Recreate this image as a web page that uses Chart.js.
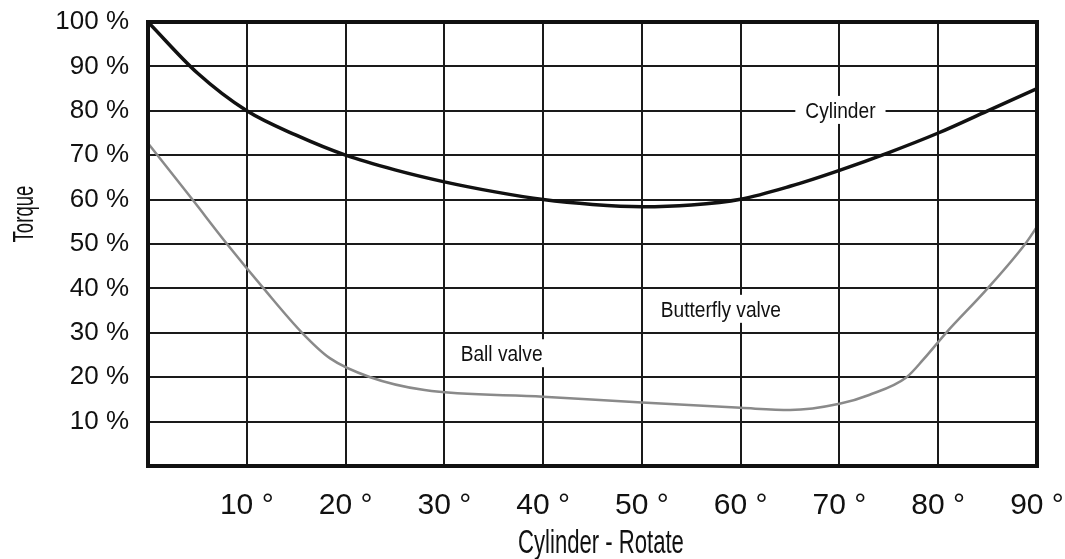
<!DOCTYPE html>
<html>
<head>
    <title>Torque vs Rotation</title>
    <script src="https://cdn.jsdelivr.net/npm/chart.js"></script>
    <style>
        body { margin: 0; background: #fff; }
    </style>
</head>
<body>
    <canvas id="torqueChart" width="1065" height="559"></canvas>

    <script>
        // values (angle in degrees, torque in %)
        var cylinderAngles = [0, 5, 10, 15, 20, 25, 30, 35, 40, 45, 50, 55, 60, 65, 70, 75, 80, 85, 90];
        var cylinderTorque = [100, 88.5, 80, 74.5, 70, 66.7, 64, 61.8, 60, 58.9, 58.4, 58.8, 60.1, 63, 66.6, 70.6, 75, 80, 85];

        var valveAngles = [0, 4.5, 8, 11.7, 15.6, 18.4, 22.5, 28, 40, 50, 60, 65, 70, 73, 76.8, 78.5, 80.8, 85, 88.8, 90];
        var valveTorque = [72.7, 60, 50, 40, 30, 24.3, 20, 17.1, 15.6, 14.3, 13.1, 12.6, 14, 16, 20, 24, 30, 40, 50, 53.9];

        var xTicks = [10, 20, 30, 40, 50, 60, 70, 80, 90];
        var yTicks = [10, 20, 30, 40, 50, 60, 70, 80, 90, 100];

        // curve names written inside the plot, placed in data units
        var curveLabels = ['Cylinder', 'Butterfly valve', 'Ball valve'];
        var curveLabelAngle = [70.1, 58, 35.8];
        var curveLabelTorque = [80.2, 35.4, 25.4];

        var regular = "'Liberation Sans', Arial, sans-serif";

        function toPoints(xs, ys) {
            return xs.map(function(x, i) { return {x: x, y: ys[i]}; });
        }

        // condensed text: squeeze along the writing direction
        function narrowText(ctx, text, x, y, squeeze) {
            ctx.save();
            ctx.translate(x, y);
            ctx.scale(squeeze, 1);
            ctx.fillText(text, 0, 0);
            ctx.restore();
        }

        var frameAndText = {
            id: 'frameAndText',
            beforeDatasetsDraw: function(chart) {
                var ctx = chart.ctx;
                var xs = chart.scales.x, ys = chart.scales.y;
                ctx.save();
                ctx.font = '22px ' + regular;
                ctx.textAlign = 'center';
                ctx.textBaseline = 'alphabetic';
                for (var i = 0; i < curveLabels.length; i++) {
                    var px = xs.getPixelForValue(curveLabelAngle[i]);
                    var py = ys.getPixelForValue(curveLabelTorque[i]);
                    var w = ctx.measureText(curveLabels[i]).width * 0.87;
                    ctx.fillStyle = '#fff';
                    ctx.fillRect(px - w / 2 - 10, py - 14, w + 20, 28);
                    ctx.fillStyle = '#111';
                    narrowText(ctx, curveLabels[i], px, py + 8, 0.87);
                }
                ctx.restore();
            },
            afterDraw: function(chart) {
                var ctx = chart.ctx;
                var a = chart.chartArea;
                ctx.save();
                ctx.strokeStyle = '#111';
                ctx.lineWidth = 4;
                ctx.strokeRect(a.left, a.top, a.right - a.left, a.bottom - a.top);

                ctx.fillStyle = '#111';
                ctx.textAlign = 'center';
                ctx.textBaseline = 'alphabetic';
                ctx.font = '34px ' + regular;
                narrowText(ctx, 'Cylinder - Rotate', 601, 553, 0.65);

                ctx.translate(33, 214);
                ctx.rotate(-Math.PI / 2);
                ctx.font = '30px ' + regular;
                narrowText(ctx, 'Torque', 0, 0, 0.62);
                ctx.restore();
            }
        };

        var ctx = document.getElementById('torqueChart').getContext('2d');
        var torqueChart = new Chart(ctx, {
            type: 'line',
            data: {
                datasets: [{
                    label: 'Cylinder',
                    data: toPoints(cylinderAngles, cylinderTorque),
                    borderColor: '#111',
                    borderWidth: 3.5,
                    pointRadius: 0,
                    cubicInterpolationMode: 'monotone'
                }, {
                    label: 'Valve',
                    data: toPoints(valveAngles, valveTorque),
                    borderColor: '#8a8a8a',
                    borderWidth: 2.5,
                    pointRadius: 0,
                    cubicInterpolationMode: 'monotone'
                }]
            },
            options: {
                responsive: false,
                animation: false,
                layout: { padding: { top: 22, right: 28, left: 0, bottom: 0 } },
                plugins: {
                    legend: { display: false },
                    tooltip: { enabled: false }
                },
                scales: {
                    x: {
                        type: 'linear',
                        min: 0,
                        max: 90,
                        afterBuildTicks: function(scale) {
                            scale.ticks = [0].concat(xTicks).map(function(v) { return {value: v}; });
                        },
                        afterFit: function(scale) {
                            scale.height = 93;
                            scale.paddingLeft = 0;
                            scale.paddingRight = 0;
                        },
                        border: { display: false },
                        grid: { color: '#1a1a1a', lineWidth: 2, drawTicks: false },
                        ticks: {
                            padding: 22,
                            color: '#111',
                            font: { family: regular, size: 30 },
                            maxRotation: 0,
                            callback: function(v) { return v === 0 ? '' : v + ' °'; }
                        }
                    },
                    y: {
                        min: 0,
                        max: 100,
                        afterBuildTicks: function(scale) {
                            scale.ticks = [0].concat(yTicks).map(function(v) { return {value: v}; });
                        },
                        afterFit: function(scale) {
                            scale.width = 148;
                            scale.paddingTop = 0;
                            scale.paddingBottom = 0;
                        },
                        border: { display: false },
                        grid: { color: '#1a1a1a', lineWidth: 2, drawTicks: false },
                        ticks: {
                            padding: 19,
                            color: '#111',
                            font: { family: regular, size: 26 },
                            callback: function(v) { return v === 0 ? '' : v + ' %'; }
                        }
                    }
                }
            },
            plugins: [frameAndText]
        });
    </script>
</body>
</html>
